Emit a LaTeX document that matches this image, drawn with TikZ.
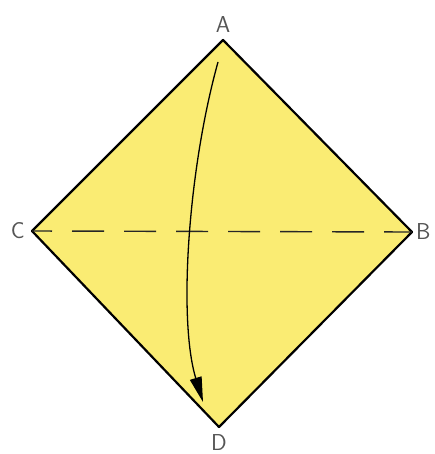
\documentclass[tikz,border=0pt]{standalone}
\usetikzlibrary{positioning,arrows.meta}
\definecolor{paper}{RGB}{250,236,115}
\definecolor{letter}{RGB}{85,85,85}
\begin{document}
\begin{tikzpicture}[
    x=1pt, y=-1pt,
    sheet/.style={draw=black, line width=2.2pt, line join=round, fill=paper},
    crease/.style={draw=black!85, line width=1.4pt, dash pattern=on 32pt off 20pt, dash phase=12pt},
    fold/.style={draw=black, line width=1.3pt, -{Triangle[length=25pt, width=12pt]}},
    corner/.style={inner sep=0pt, font=\fontsize{23}{23}\sffamily, text=letter}
]
\useasboundingbox (0,0) rectangle (434,454);
\coordinate (A) at (223,40);
\coordinate (B) at (412,232);
\coordinate (C) at (32,231);
\coordinate (D) at (219,427);
% the square sheet, standing on a corner
\path[sheet] (A) -- (B) -- (D) -- (C) -- cycle;
\path[crease] (C) -- (B);
% corner letters
\node[corner, above=7pt of A] (labA) {A};
\node[corner, right=4pt of B] (labB) {B};
\node[corner, left=7pt of C] (labC) {C};
\node[corner, below=7pt of D] (labD) {D};
% fold A down to D
\coordinate (top) at (218,62);
\coordinate (tip) at (203,402);
\draw[fold] (top) .. controls (188,170) and (178,320) .. (tip);
\end{tikzpicture}
\end{document}
